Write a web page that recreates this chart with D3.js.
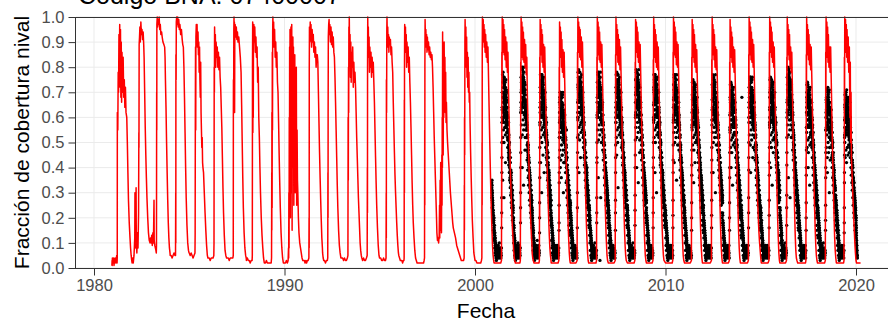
<!DOCTYPE html>
<html>
<head>
<meta charset="utf-8">
<script src="https://cdn.jsdelivr.net/npm/d3@7"></script>
<style>
  body { margin: 0; background: #fff; }
  svg { display: block; font-family: "Liberation Sans", Arial, sans-serif; }
</style>
</head>
<body>
<script>
// ---- DATA ---------------------------------------------------------------
// Modelled snow cover (red line): one string per year, "offset:value" pairs,
// offset = hundredths of the year, value = hundredths of the fraction.
const modelYears = [1980, 1981, 1982, 1983, 1984, 1985, 1986, 1987, 1988, 1989,
  1990, 1991, 1992, 1993, 1994, 1995, 1996, 1997, 1998, 1999,
  2000, 2001, 2002, 2003, 2004, 2005, 2006, 2007, 2008, 2009,
  2010, 2011, 2012, 2013, 2014, 2015, 2016, 2017, 2018, 2019, 2020];

const modelCurve = [
  "94:1 95:3 95.5:1 96.5:4 97.5:2 98.5:3",
  "0:2 3:4 5:1 8:3 11:4 14:2 17:3 19:5 21:2 22:4 22.5:62 25:55 27:78 29:70 31:93 33:80 35:97 37:72 39:95 41:68 43:90 45:66 47:86 50:70 53:84 56:68 59:75 62:64 65:72 68:62 72:60 75:50 78:38 81:27 85:18 89:12 92:8 95:5 98:3",
  "0:2 3:4 6:2 10:5 14:12 15:30 16:10 18:28 19:8 21:32 22:10 25:6 28:14 31:8 34:22 35.5:54 36:48 37:89 39:92 41:96 43:90 46:98 49:93 52:95 55:91 58:94 61:89 63:84 66:70 69:56 72:45 75:36 78:28 82:20 86:14 90:11 94:10 97:12",
  "0:10 3:13 6:9 9:14 12:10 15:27 16:11 19:9 22:8 25:7 27:6 28:9 29:70 29.5:55 30:97 32:100 34:96 36:99 39:97 42:100 45:95 48:97 51:93 55:94 58:92 62:90 67:89 71:88 73:84 75:75 78:64 81:50 84:38 87:27 90:18 93:12 96:8 99:6",
  "0:5 5:5 10:4 15:5 20:6 25:5 28:5 29:30 29.5:10 30:85 31:75 32:98 34:100 36:97 39:100 42:96 45:99 48:95 51:97 55:93 59:95 63:91 66:89 69:88 72:80 75:68 78:54 81:40 84:28 88:17 92:10 96:7 99:6",
  "0:6 5:5 10:6 15:5 20:4 25:5 30:6 31:14 31.5:40 32:62 33:88 34:55 35:92 37:97 39:90 41:97 43:88 46:94 48:85 50:90 52:78 54:88 56:75 58:68 60:82 62:62 64:55 66:48 68:52 70:42 72:40 75:38 79:30 83:22 87:15 91:9 95:5 98:4",
  "0:4 5:4 10:3 15:4 20:4 25:4 29:5 30:10 30.5:45 31:80 32:70 33:96 35:86 37:93 39:80 41:90 44:84 47:88 50:80 53:86 56:79 59:84 62:76 65:72 68:64 71:56 74:44 77:32 80:22 84:13 88:7 92:5 96:4 99:4",
  "0:4 5:4 10:3 15:4 20:4 25:4 29:4 31:5 31.5:58 32:75 33:62 34:95 35:100 36:80 37:98 38:62 39:90 41:97 44:92 47:96 50:91 53:94 56:90 60:92 64:88 68:84 72:78 75:65 78:50 81:36 84:24 88:14 92:8 96:5 99:4",
  "0:3 5:4 10:3 15:3 20:2 25:3 30:3 31:5 31.5:45 32:80 33:98 34:54 35:92 36:60 37:88 39:97 41:90 44:96 47:86 50:92 53:84 56:88 59:74 62:80 65:60 68:52 71:40 74:30 78:20 82:13 86:8 90:4 94:2 98:2",
  "0:2 5:3 10:2 15:2 20:2 25:2 30:2 32:4 33:38 33.5:15 34:62 35:24 36:86 37:55 38:94 39:100 41:92 43:98 45:88 48:95 51:84 54:90 57:80 60:86 63:74 66:70 69:58 72:45 75:34 78:24 82:14 86:8 90:4 94:2 98:2",
  "0:2 5:2 10:3 15:2 19:3 21:8 22:4 23:30 24:8 25:60 26:20 27:88 28:35 29:95 30:55 31:20 32:92 33:70 34:96 35:30 36:90 37:50 38:97 40:15 41:80 42:40 44:92 46:62 47:88 49:25 50:78 52:50 54:85 56:30 58:70 60:45 62:80 64:25 66:55 68:35 70:30 73:20 76:14 80:10 84:8 88:6 92:4 96:3",
  "0:3 4:3 8:2 12:3 16:2 20:3 24:3 28:4 29:20 29.5:8 30:78 31:96 33:90 35:98 37:92 39:97 42:88 45:95 48:90 51:93 54:86 57:90 60:84 63:88 66:80 69:85 72:85 75:82 78:70 81:58 84:46 87:36 90:27 93:19 96:12 99:8",
  "0:6 3:4 6:3 10:3 15:2 20:3 25:3 27:4 28:38 28.5:20 29:60 30:92 32:97 34:99 36:93 38:97 41:90 44:96 47:89 50:94 53:88 56:92 59:86 62:84 65:76 68:66 71:55 74:44 77:33 80:24 84:15 88:9 92:6 96:4 99:4",
  "0:4 5:4 10:3 15:4 20:3 25:3 30:4 33:5 34:60 35:35 36:80 37:62 38:96 39:88 40:100 42:84 44:93 46:76 48:90 50:74 52:86 55:80 58:88 61:72 64:82 67:74 70:78 73:72 76:62 79:52 82:44 85:36 88:28 91:22 94:16 97:10",
  "0:7 3:5 6:4 10:3 15:4 20:3 25:3 30:4 34:5 35:40 35.5:22 36:80 37:100 38:88 40:96 42:84 44:92 46:78 48:88 51:80 54:86 57:76 60:84 63:78 66:82 69:74 72:66 75:55 78:44 81:34 84:25 88:16 92:9 96:5 99:4",
  "0:4 5:4 10:3 15:3 20:4 25:3 30:3 33:4 34:30 34.5:12 35:75 36:62 37:94 38:100 40:90 42:96 44:88 46:93 48:86 50:92 53:89 56:91 59:85 62:88 65:82 68:78 71:66 74:56 77:46 80:37 83:30 86:24 89:18 92:13 95:9 98:6",
  "0:5 4:4 8:3 12:3 16:3 20:2 24:3 27:3 28:4 29:67 29.5:30 30:82 31:97 33:92 35:96 37:86 39:93 41:80 43:90 46:82 49:88 52:78 55:84 58:74 61:66 64:56 67:45 70:34 73:25 76:18 80:12 84:7 88:4 92:3 96:2",
  "0:2 5:2 10:2 15:2 20:2 25:2 30:2 33:3 35:4 36:55 36.5:25 37:80 38:99 40:90 42:95 44:88 46:93 48:86 50:92 53:87 56:90 59:85 62:88 65:84 68:86 71:83 74:85 77:80 80:72 83:62 86:52 89:44 92:36 95:28 98:20",
  "0:14 3:11 6:12 9:10 12:13 14:25 15:12 17:35 18:15 20:42 21:20 23:30 24:14 26:45 27:25 28:60 29:40 30:94 31:55 32:88 33:45 35:82 36:60 38:90 40:70 42:84 44:62 46:78 48:58 50:66 53:55 56:50 59:46 62:42 65:38 68:34 71:30 74:27 77:24 80:21 83:18 86:16 89:15 92:14 95:13 98:12",
  "0:11 4:9 8:8 12:7 16:6 20:5 24:4 28:3 32:3 36:3 40:3 43:4 44:33 44.5:15 45:60 46:45 47:90 48:99 50:88 52:96 54:80 56:92 58:76 60:86 62:72 64:84 66:70 68:78 70:66 72:70 74:58 77:46 80:36 83:27 86:19 90:12 94:6 98:4",
  "0:3 5:3 10:2 15:2 20:2 25:2 30:2 34:3 36:4 37:50 37.5:25 38:85 39:100 41:92 43:99 45:90 47:97 49:88 51:95 53:86 56:93 59:84 62:90 65:82 68:88 71:76 74:64 77:52 80:41 83:31 86:22 89:15 92:9 95:5 98:3",
  "0:2 5:2 10:2 15:2 20:2 25:2 30:2 35:2 39:3 40:48 40.5:20 41:86 42:72 43:100 45:92 47:99 49:86 51:97 53:85 55:95 58:83 61:92 64:80 67:90 70:78 73:86 76:70 79:60 82:50 85:41 88:33 91:26 94:20 97:15",
  "0:11 3:7 6:4 9:3 12:2 18:2 24:2 30:2 36:2 38:3 39:42 39.5:18 40:82 41:66 42:100 44:91 46:98 48:84 50:96 52:83 54:94 57:82 60:91 63:80 66:89 69:77 72:84 75:68 78:58 81:48 84:39 87:31 90:24 93:18 96:13 99:9",
  "0:6 3:4 6:3 10:2 18:2 24:2 30:2 36:2 38:3 39:40 39.5:20 40:84 41:70 42:99 44:90 46:97 48:85 50:95 52:82 54:93 57:80 60:89 63:78 66:88 69:76 72:64 75:53 78:43 81:34 84:26 87:19 90:13 93:8 96:5 99:3",
  "0:2 8:2 12:2 18:2 24:2 30:2 36:2 40:3 41:38 41.5:16 42:80 43:64 44:98 46:88 48:96 50:84 52:94 54:80 56:91 59:78 62:87 65:76 68:86 71:74 74:62 77:51 80:41 83:32 86:24 89:17 92:11 95:6 98:3",
  "0:2 5:2 10:2 15:2 20:2 25:2 30:2 36:3 37:45 37.5:22 38:86 39:70 40:100 42:90 44:98 46:86 48:96 50:84 52:95 55:83 58:92 61:80 64:90 67:78 70:66 73:55 76:44 79:34 82:25 85:17 88:11 91:6 94:3 97:2",
  "0:2 5:2 10:2 15:2 20:2 25:2 30:2 35:2 38:3 39:44 39.5:20 40:84 41:68 42:100 44:91 46:98 48:85 50:96 52:83 54:94 57:82 60:90 63:80 66:89 69:77 72:65 75:54 78:43 81:33 84:24 87:16 90:10 93:5 96:3",
  "0:2 5:2 10:2 15:2 20:2 25:2 30:2 36:3 37:46 37.5:24 38:85 39:70 40:100 42:89 44:97 46:85 48:95 50:82 52:93 55:81 58:91 61:79 64:88 67:76 70:64 73:53 76:42 79:32 82:23 85:15 88:9 91:5 94:3",
  "0:2 5:2 10:2 15:2 20:2 25:2 30:2 35:2 39:3 40:40 40.5:18 41:82 42:66 43:99 45:90 47:98 49:86 51:96 53:84 55:94 58:82 61:90 64:80 67:89 70:77 73:65 76:54 79:43 82:33 85:24 88:16 91:10 94:5 97:3",
  "0:2 5:2 10:2 15:2 20:2 25:2 30:2 34:3 35:42 35.5:20 36:83 37:68 38:100 40:90 42:97 44:84 46:95 48:82 50:93 53:80 56:90 59:79 62:88 65:76 68:64 71:53 74:42 77:32 80:23 83:15 86:9 89:5 92:3",
  "0:2 5:2 10:2 15:2 20:2 25:2 30:2 35:2 38:3 39:45 39.5:22 40:86 41:70 42:100 44:91 46:98 48:85 50:96 52:84 54:94 57:81 60:90 63:80 66:89 69:77 72:65 75:54 78:43 81:33 84:24 87:16 90:10 93:5 96:3",
  "0:2 5:2 10:2 15:2 20:2 25:2 30:2 36:3 37:44 37.5:20 38:84 39:68 40:99 42:89 44:97 46:84 48:95 50:82 52:93 55:80 58:89 61:78 64:87 67:75 70:63 73:52 76:41 79:31 82:22 85:14 88:8 91:4 94:2",
  "0:2 5:2 10:2 15:2 20:2 25:2 30:2 35:2 41:3 42:42 42.5:20 43:83 44:68 45:100 47:90 49:97 51:85 53:95 55:83 57:93 60:80 63:88 66:79 69:87 72:75 75:63 78:52 81:41 84:31 87:22 90:14 93:8 96:4 99:2",
  "0:2 5:2 10:2 15:2 20:2 25:2 30:2 35:3 36:40 36.5:18 37:82 38:66 39:99 41:90 43:96 45:84 47:94 49:82 51:92 54:80 57:88 60:78 63:87 66:75 69:63 72:52 75:41 78:31 81:22 84:14 87:8 90:4 93:2",
  "0:2 5:2 10:2 15:2 20:2 25:2 30:2 35:3 36:44 36.5:22 37:85 38:70 39:100 41:91 43:98 45:85 47:96 49:83 51:94 54:82 57:91 60:80 63:89 66:77 69:66 72:56 75:47 78:39 81:32 84:26 87:20 90:15 93:11 96:8 99:5",
  "0:4 3:2 8:2 14:2 20:2 26:2 32:2 38:2 43:3 44:46 44.5:24 45:86 46:72 47:100 49:92 51:98 53:86 55:96 57:84 59:94 62:82 65:90 68:80 71:88 74:74 77:61 80:49 83:38 86:28 89:19 92:12 95:6 98:3",
  "0:2 5:2 10:2 15:2 20:2 25:2 30:2 35:3 36:42 36.5:20 37:84 38:68 39:100 41:90 43:97 45:85 47:95 49:83 51:93 54:80 57:88 60:78 63:86 66:72 69:58 72:45 75:33 78:22 81:13 84:7 87:4 90:3 94:2 98:2",
  "0:2 5:2 10:2 15:2 20:2 25:2 30:2 35:2 37:3 38:44 38.5:22 39:85 40:70 41:100 43:90 45:97 47:85 49:95 51:83 53:93 56:81 59:89 62:79 65:88 68:76 71:64 74:53 77:42 80:32 83:23 86:15 89:9 92:5 95:3 98:2",
  "0:2 5:2 10:2 15:2 20:2 25:2 30:2 35:2 39:3 40:44 40.5:20 41:86 42:70 43:100 45:90 47:98 49:84 51:96 53:82 55:93 58:80 61:88 64:78 67:88 70:75 73:62 76:50 79:39 82:29 85:20 88:12 91:7 94:4 97:2",
  "0:2 5:2 10:2 15:2 20:2 25:2 30:2 35:2 37:3 38:40 38.5:18 39:84 40:66 41:100 43:92 45:99 47:86 49:97 51:84 53:95 56:82 59:92 62:78 65:88 68:60 70:82 72:50 74:70 76:44 79:38 82:32 85:26 88:20 91:15 94:10 97:6 99:4",
  "0:3 3:2 10:2 18:2 24:2"
];

// Observed snow cover (black points): one string per year, segments
// "start:v v v ..." with one value per hundredth of a year from start.
const snowYears = [2000, 2001, 2002, 2003, 2004, 2005, 2006, 2007, 2008, 2009,
  2010, 2011, 2012, 2013, 2014, 2015, 2016, 2017, 2018, 2019, 2020];

const snowObs = [
  "88:34 30 31 27 28 24 25 22 20 21 18 17",
  "0:16 15 13 14 11 12 10 09 10 08 07 09 06 08 07 05 06 08;18:06 04 07 05 09 06 04 08 05 07 10 06 05 04 08 06 05 07 04 06 05 08;40:16 38 58;43:64 70 58 74 68 62 72 76 66 70 60 73 68 64 71 67 56 72 65 62 69 63 59 66 61 57;69:62 54 58 51 55 48 52 46 49 43 47 41 44 38 42 36 39 34 37 32 35 30 33 28 31 26 29 25 27 23 24;45:35;52:28;60:42",
  "0:20 18 17 15 16 13 12 10 11 08 09 07 08 06 07 05 06 05;18:07 04 06 09 05 08 04 06 10 05 07 04 08 06 05 09 04 07 06 05 08;39:18 40 62;42:70 64 74 68 79 72 66 75 70 80 73 67 71 76 64 72 69 74 62 70 66 71 60 67 63 61;68:62 58 55 60 52 56 49 53 47 50 44 48 42 45 39 43 37 40 35 38 32 36 30 33 28 31 27 29 25 27 24 22;48:40;55:33;62:47",
  "0:20 21 17 18 15 16 13 14 11 12 09 10 08 09 07 06 08 05;18:06 08 05 07 04 09 06 05 07 11 04 06 08 05 07 04 06 09 05 07 06;39:14 36 57;42:62 70 66 73 60 71 75 68 64 72 77 69 65 71 63 74 68 61 70 66 59 67 63 58 65 60;68:64 58 55 60 51 55 48 52 46 43 49 41 44 38 42 36 39 33 37 31 34 29 32 27 30 25 28 24 26 22 23 21;44:42;50:30;57:45;63:38",
  "0:20 18 19 16 17 14 15 12 13 10 11 09 08 09 07 06 07 05;18:06 04 07 05 08 06 04 09 05 07 05 08 06 04 07 05 09 06 04 07 05 06 08;41:15 34 52;44:62 68 59 65 70 64 57 67 63 69 60 66 54 64 68 61 58 65 56 62 59 52 60 55 57 51;73:56 52 55 48 51 45 49 43 46 40 44 38 41 36 39 34 37 32 35 30 33 28 31 26 29 25 27;48:40;53:36;58:45;64:30;70:42;80:55",
  "0:24 25 21 22 19 20 16 17 14 15 12 13 10 11 09 08 07 08;18:06 05 07 04 08 06 05 09 04 07 06 05 08 04 06 07 05 06 04;37:16 40 60;40:66 72 60 76 70 64 74 78 68 72 62 75 70 66 73 69 58 74 67 64 71 65 61 68 63 59;66:66 60 56 62 53 57 50 54 48 45 51 43 46 40 44 38 41 35 39 33 36 31 34 29 32 27 30 26 28 24 25 23 24 21;46:38;54:44;88:40",
  "0:22 20 21 18 19 16 15 13 14 11 12 10 09 08 09 07 06 07;18:05 07 04 06 09 05 08 06 04 07 05 10 06 04 08 05 07 06 04 05 07;39:18 42 61;42:68 62 72 66 77 70 64 73 68 78 71 65 69 74 62 70 67 72 60 68 64 69 58 65 61 59;68:65 57 61 54 58 51 55 49 52 46 50 44 47 41 45 39 42 37 40 35 38 33 36 31 34 29 32 28 30 26 27 25;56:03;47:36;60:28",
  "0:24 22 23 20 21 18 17 15 16 13 14 12 10 11 09 08 07 08;18:06 04 07 05 08 06 05 09 04 07 05 06 08 04 06 05 07 04 06;37:15 38 58;40:62 70 66 73 60 71 75 68 64 72 77 69 65 71 63 74 68 61 70 66 59 67 63 58 65 60;66:63 58 55 60 52 56 49 53 47 50 44 48 42 45 39 43 37 40 35 38 32 36 30 33 28 31 27 29 25 27 24 25 22 23;44:45;51:32",
  "0:22 20 21 18 19 16 15 13 14 11 12 10 09 08 09 07 06 07;18:05 07 04 06 09 05 08 06 04 07 05 10 06 04 08 05 07 06 04 05 07 06;40:17 40 60;43:69 75 66 72 78 71 64 74 70 76 67 73 61 71 75 68 65 72 63 69 66 59 67 62 64 58;69:65 57 61 54 58 51 55 49 52 46 50 44 47 41 45 39 42 37 40 35 38 33 36 31 34 29 32 28 30 26 27;49:40;57:34;64:46",
  "0:22 20 21 18 19 16 17 14 15 12 13 10 11 09 08 07 08 06;18:07 05 04 08 06 05 09 04 07 06 05 08 04 06 07 05 06;35:16 40 59;38:65 71 59 75 69 63 73 77 67 71 61 74 69 65 72 68 57 73 66 63 70 64 60 67 62 58;64:66 60 56 62 53 57 50 54 48 45 51 43 46 40 44 38 41 35 39 33 36 31 34 29 32 27 30 26 28 24 25 22 24 21 22 20;45:38;53:30",
  "0:20 18 19 16 17 14 15 12 13 10 11 09 08 09 07 06 07 05;18:06 04 07 05 08 06 04 09 05 07 05 08 06 04 07 05 09 06 04 07 05;39:16 38 58;42:67 61 71 65 76 69 63 72 67 77 70 64 68 73 61 69 66 71 59 67 63 68 57 64 60 58;68:62 58 55 60 52 56 49 53 47 50 44 48 42 45 39 43 37 40 35 38 32 36 30 33 28 31 27 29 25 27 24 22;46:42;58:35",
  "0:22 23 19 20 17 18 15 16 13 14 11 12 10 09 08 09 07 06;18:07 05 04 08 06 05 09 04 07 06 05 08 04 06 07 05 06 04 05;37:15 37 56;40:59 67 63 70 57 68 72 65 61 69 74 66 62 68 60 71 65 58 67 63 56 64 60 55 62 57;66:62 55 59 52 56 49 53 47 50 44 48 42 45 39 43 37 40 35 38 33 36 31 34 29 32 27 30 26 28 24 25 23 24 21;48:34;55:42",
  "0:20 18 19 16 17 14 15 12 13 10 11 09 08 09 07 06 07 05;18:06 04 07 05 08 06 04 09 05 07 05 08 06 04 07 05 09 06 04 07 05 06 04 08;42:16 38 57;45:67 73 64 70 75 69 62 72 68 74 65 71 59 69 73 66 63 70 61 67 64 57 65 60 62 56;71:62 56 59 52 56 49 53 46 50 44 47 41 45 39 42 37 40 35 38 33 36 31 34 29 32 28 30 26 27;50:38;62:30",
  "0:18 19 16 17 14 15 12 13 10 11 09 08 09 07 06 07 05 06;18:04 07 05 08 06 04 09 05 07 05 08 06 04 07 05 09 06 04;36:15 36 55;39:61 67 55 71 65 59 69 73 63 67 57 70 65 61 68 64 53 69 62 59 66 60 56 63 58 54;65:62 57 53 59 50 54 47 51 45 42 48 40 43 37 41 35 38 32 36 30 33 28 31 26 29 24 27 23 25 21 22 20 21 19 20;44:40;52:33",
  "0:20 68;2:17 18 15 16 13 14 11 12 10 09 08 09 07 06 07 05;18:06 04 07 05 08 06 04 09 05 07 05 08 06 04 07 05 09 06;36:16 39 58;39:66 60 70 64 75 68 62 71 66 76 69 63 67 72 60 68 65 70 58 66 62 67 56 63 59 57;65:62 58 55 60 52 56 49 53 47 50 44 48 42 45 39 43 37 40 35 38 32 36 30 33 28 31 27 29 25 27 24 22 23 21 22;47:38;58:44",
  "0:20 18 19 16 17 14 15 12 13 10 11 09 08 09 07 06 07 05;18:06 04 07 05 08 06 04 09 05 07 05 08 06 04 07 05 09 06 04 07 05 06 04 08 05 07;44:16 37 57;47:60 68 64 71 58 69 73 66 62 70 75 67 63 69 61 72 66 59 68 64 57 65 61 56 63 58;73:61 55 58 51 55 48 52 45 49 43 46 40 44 38 41 36 39 34 37 32 35 30 33 28 31 27 28;52:40;60:33;66:46",
  "0:22 20 21 18 19 16 17 14 15 12 13 10 11 09 08 07 08 06;18:05 07 04 06 09 05 08 06 04 07 05 10 06 04 08 05 07 06;36:17 41 60;39:67 73 61 77 71 65 75 79 69 73 63 76 71 67 74 70 59 75 68 65 72 66 62 69 64 60;65:66 60 56 62 53 57 50 54 48 45 51 43 46 40 44 38 41 35 39 33 36 31 34 29 32 27 30 26 28 24 25 23 24 21 22;45:36;54:28",
  "0:20 18 19 16 17 14 15 12 13 10 11 09 08 09 07 06 07 05;18:06 04 07 05 08 06 04 09 05 07 05 08 06 04 07 05 09 06 04 07;38:15 37 56;41:64 70 61 67 73 66 59 69 65 71 62 68 56 66 70 63 60 67 58 64 61 54 62 57 59 53;67:61 55 59 52 56 49 53 47 50 44 48 42 45 39 43 37 40 35 38 33 36 31 34 29 32 27 30 26 28 24 25 23 24;49:40;57:33",
  "0:22 20 21 18 19 16 17 14 15 12 13 10 11 09 08 07 08 06;18:05 07 04 06 09 05 08 06 04 07 05 10 06 04 08 05 07 06 04 05 07 06;40:15 36 55;43:62 56 66 60 71 64 58 67 62 72 65 59 63 68 56 64 61 66 54 62 58 63 52 59 55 53;69:58 54 51 56 48 52 45 49 43 46 40 44 38 41 35 39 33 36 31 34 28 32 26 29 24 27 23 25 21 23 20;50:38;60:30",
  "0:18 16 17 14 15 12 13 10 11 09 08 09 07 06 07 05 06 04;18:06 04 07 05 08 06 04 09 05 07 05 08 06 04 07 05 09 06 04 07;38:14 34 53;41:56 64 60 67 54 65 69 62 58 66 71 63 59 65 57 68 62 55 64 60 53 61 57 52 59 54;67:60 56 53 58 50 54 47 51 45 48 42 46 40 43 37 41 35 38 33 36 30 34 28 31 26 29 24 27 22 25 21 23 20",
  "0:18 15 13 10 08 06 05 04"
];

// further daily observations falling between the ones above (same format)
const snowObsExtra = [
  "88.5:32 33 29 26 27 23 22 23 19 18 19 16",
  "0.5:15 14 12 13 10 11 08 09 07 08 06 07 05 06 04 07 05;40.5:28 50 63 70 64 68 59 72 66 75 63 69 67 61 73 65 70 58 68 64 71 62 66 60 68 56 64 59 61 58 61 54 57 51 55 48 52 45 49 43 47 40 44 38 42 36 39 34 37 32 35 30 33 28 31 26 29 25 27 23",
  "0.5:22 19 20 16 17 14 13 11 12 09 10 08 07 08 06 05 07;39.5:30 52 66 63 71 76 68 73 79 65 74 70 77 67 72 75 64 73 78 69 66 74 62 71 67 63 69 65 60 64 59 61 55 58 52 55 49 52 46 49 44 47 41 44 39 42 37 39 35 37 33 35 31 33 29 31 28 29 26 27 24",
  "0.5:23 19 20 16 17 14 15 12 10 11 09 08 07 06 08 05 06;39.5:26 48 64 72 66 70 61 74 68 77 65 71 69 63 75 67 72 60 70 66 73 64 68 62 70 58 66 61 63 60 63 56 59 53 57 50 54 47 51 45 49 42 46 40 44 38 41 36 39 34 37 32 35 30 33 28 31 27 29 25 27",
  "0.5:22 20 17 18 15 16 13 14 11 12 09 10 07 08 06 07 05;41.5:25 44 58 54 62 67 59 64 70 56 65 61 68 58 63 66 55 64 69 60 57 65 53 62 58 54 60 56 51 58 53 55 49 52 46 49 43 46 40 43 38 41 35 38 33 36 31 33 29 31 27 29 25 27 23 25 22 23 20",
  "0.5:23 26 20 21 18 19 15 16 13 14 11 12 09 10 08 07 06;37.5:30 52 66 73 67 71 62 75 69 78 66 72 70 64 76 68 73 61 71 67 74 65 69 63 71 59 67 62 64 60 63 56 59 53 57 50 54 47 51 45 49 42 46 40 44 38 41 36 39 34 37 32 35 30 33 28 31 27 29 25 27 24 25",
  "0.5:21 23 19 20 17 16 14 15 12 13 11 10 09 08 06 07 05;39.5:28 50 66 61 69 74 66 71 77 63 72 68 75 65 70 73 62 71 76 67 64 72 60 69 65 61 67 63 58 64 59 61 55 58 52 55 49 52 46 49 44 47 41 44 39 42 37 39 35 37 33 35 31 33 29 31 28 29 26 27 24",
  "0.5:23 21 22 19 20 17 16 14 15 12 13 11 09 10 08 07 06;37.5:27 49 64 72 66 70 61 74 68 77 65 71 69 63 75 67 72 60 70 66 73 64 68 62 70 58 66 61 63 60 63 56 59 53 57 50 54 47 51 45 49 42 46 40 44 38 41 36 39 34 37 32 35 30 33 28 31 27 29 25 27 24 25",
  "0.5:21 23 19 20 17 16 14 15 12 13 11 10 09 08 07 06 05;40.5:29 51 66 62 70 75 67 72 78 64 73 69 76 66 71 74 63 72 77 68 65 73 61 70 66 62 68 64 59 64 59 61 55 58 52 55 49 52 46 49 44 47 41 44 39 42 37 39 35 37 33 35 31 33 29 31 28 29 26 27",
  "0.5:21 19 20 17 18 15 16 13 14 11 12 09 10 08 07 06 05;35.5:28 50 65 72 66 70 61 74 68 77 65 71 69 63 75 67 72 60 70 66 73 64 68 62 70 58 66 61 63 60 63 56 59 53 57 50 54 47 51 45 49 42 46 40 44 38 41 36 39 34 37 32 35 30 33 28 31 27 29 25 27 24 25 23 22",
  "0.5:23 19 21 17 18 15 16 13 14 11 12 10 08 09 07 06 05;39.5:27 49 64 60 68 73 65 70 76 62 71 67 74 64 69 72 61 70 75 66 63 71 59 68 64 60 66 62 57 64 59 61 55 58 52 55 49 52 46 49 44 47 41 44 39 42 37 39 35 37 33 35 31 33 29 31 28 29 26 27 24",
  "0.5:21 22 18 19 16 17 14 15 12 13 10 11 09 08 07 08 06;37.5:26 47 62 69 63 67 58 71 65 74 62 68 66 60 72 64 69 57 67 63 70 61 65 59 67 55 63 58 60 60 63 56 59 53 57 50 54 47 51 45 49 42 46 40 44 38 41 36 39 34 37 32 35 30 33 28 31 27 29 25 27 24 25",
  "0.5:19 21 17 18 15 16 13 14 11 12 10 08 09 07 08 06 05;42.5:27 48 63 59 67 72 64 69 75 61 70 66 73 63 68 71 60 69 74 65 62 70 58 67 63 59 65 61 56 64 59 61 55 58 52 55 49 52 46 49 44 47 41 44 39 42 37 39 35 37 33 35 31 33 29 31 28 29",
  "0.5:21 17 18 15 16 13 14 11 12 10 09 10 08 07 06 05 07;36.5:26 46 61 68 62 66 57 70 64 73 61 67 65 59 71 63 68 56 66 62 69 60 64 58 66 54 62 57 59 60 63 56 59 53 57 50 54 47 51 45 49 42 46 40 44 38 41 36 39 34 37 32 35 30 33 28 31 27 29 25 27 24 25 23",
  "0.5:21 19 16 17 14 15 12 13 11 10 09 08 07 08 06 05 06;36.5:28 50 64 60 68 73 65 70 76 62 71 67 74 64 69 72 61 70 75 66 63 71 59 68 64 60 66 62 57 64 59 61 55 58 52 55 49 52 46 49 44 47 41 44 39 42 37 39 35 37 33 35 31 33 29 31 28 29 26 27 24 25 23 24",
  "0.5:24 21 22 18 19 15 16 13 14 12 11 10 08 09 07 06 05;44.5:27 48 63 70 64 68 59 72 66 75 63 69 67 61 73 65 70 58 68 64 71 62 66 60 68 56 64 59 61 60 63 56 59 53 57 50 54 47 51 45 49 42 46 40 44 38 41 36 39 34 37 32 35 30 33 28",
  "0.5:24 21 23 19 20 17 18 15 16 13 14 11 10 09 08 07 06;36.5:29 52 66 63 71 76 68 73 79 65 74 70 77 67 72 75 64 73 78 69 66 74 62 71 67 63 69 65 60 64 59 61 55 58 52 55 49 52 46 49 44 47 41 44 39 42 37 39 35 37 33 35 31 33 29 31 28 29 26 27 24 25 23 24",
  "0.5:19 21 17 18 15 16 13 14 11 12 10 09 08 07 08 06 05;38.5:26 47 62 68 62 66 57 70 64 73 61 67 65 59 71 63 68 56 66 62 69 60 64 58 66 54 62 57 59 60 63 56 59 53 57 50 54 47 51 45 49 42 46 40 44 38 41 36 39 34 37 32 35 30 33 28 31 27 29 25 27 24",
  "0.5:23 21 22 19 20 17 18 15 16 13 14 11 12 10 09 08 07;40.5:25 46 60 55 63 68 60 65 71 57 66 62 69 59 64 67 56 65 70 61 58 66 54 63 59 55 61 57 52 60 55 57 51 54 48 51 45 48 42 45 40 43 37 40 35 38 33 35 31 33 29 31 27 29 25 27 24 25 22 23",
  "0.5:20 21 18 19 16 17 14 15 12 13 11 10 09 08 07 06 05;38.5:24 45 59 65 59 63 54 67 61 70 58 64 62 56 68 60 65 53 63 59 66 57 61 55 63 51 59 54 56 57 60 53 56 50 54 47 51 44 48 42 46 39 43 37 41 35 38 33 36 31 34 29 32 27 30 25 28 24 26 22 24 21",
  "0.5:19 17 14 11 09 07 05"
];

// scattered observations (cloud-affected days) around the main band
const snowObsScatter = [
  "88.25:28 35 24 30 22 26 19 21 15 18 14",
  "0.25:20 11 17 08 14 06 12 09 05 10 04 08 03 07 05 06 04;40.25:22 44 60 58 77 52 70 78 63 55 74 68 50 76 61 72 56 66 74 53 69 62 75 57 64 71 54 67 60 70 52 64 48 60 55 44 58 41 53 47 38 50 35 46 42 32 44 29 39 36 26 38 24 33 30 21 31 19 27 25",
  "0.25:24 13 20 10 16 07 13 10 05 11 04 09 03 08 05 06 04;39.25:24 46 62 76 57 70 80 62 74 53 79 66 72 59 78 64 55 75 68 61 80 57 71 65 52 73 60 67 63 55 66 47 61 52 43 57 49 39 53 45 36 49 33 44 40 30 42 27 38 34 25 35 22 31 28 20 29 18 26 23 16",
  "0.25:22 12 18 09 15 07 12 09 05 10 04 08 03 07 05 06 04;39.25:20 42 58 58 77 52 70 77 63 55 74 68 50 76 61 72 56 66 75 53 69 62 76 57 64 71 54 67 60 70 52 64 48 60 55 44 58 41 53 47 38 50 35 46 42 32 44 29 39 36 26 38 24 33 30 21 31 19 27 25 17",
  "0.25:20 11 17 08 14 06 12 09 05 10 04 08 03 07 05 06 04;41.25:18 38 52 66 47 60 70 52 64 43 69 56 62 49 68 54 45 65 58 51 70 47 61 55 42 63 50 57 53 50 61 42 56 47 38 52 44 34 48 40 31 44 28 39 35 25 37 22 33 29 20 30 17 26 23 15 24 13 21 18",
  "0.25:26 14 22 10 18 08 15 12 06 11 05 09 04 08 03 07 05;37.25:24 46 62 59 78 53 71 79 64 56 75 69 51 78 62 73 57 67 76 54 70 63 77 58 65 72 55 68 61 70 52 64 48 60 55 44 58 41 53 47 38 50 35 46 42 32 44 29 39 36 26 38 24 33 30 21 31 19 27 25 17 24 16 21",
  "0.25:24 13 20 10 16 07 13 10 05 11 04 09 03 08 05 06 04;39.25:22 44 60 74 55 68 78 60 72 51 77 64 70 57 76 62 53 73 66 59 78 55 69 63 50 71 58 65 61 55 66 47 61 52 43 57 49 39 53 45 36 49 33 44 40 30 42 27 38 34 25 35 22 31 28 20 29 18 26 23 16",
  "0.25:25 13 21 10 17 08 14 11 06 11 05 09 04 08 03 07 05;37.25:22 44 60 58 77 52 70 78 63 55 74 68 50 77 61 72 56 66 75 53 69 62 76 57 64 71 54 67 60 70 52 64 48 60 55 44 58 41 53 47 38 50 35 46 42 32 44 29 39 36 26 38 24 33 30 21 31 19 27 25 17 24 16 21",
  "0.25:24 13 20 10 16 07 13 10 05 11 04 09 03 08 05 06 04;40.25:23 45 61 75 56 69 79 61 73 52 78 65 71 58 77 63 54 74 67 60 79 56 70 64 51 72 59 66 62 55 66 47 61 52 43 57 49 39 53 45 36 49 33 44 40 30 42 27 38 34 25 35 22 31 28 20 29 18 26 23",
  "0.25:24 13 20 10 16 07 13 10 05 11 04 09 03 08 05 06 04;35.25:22 44 60 58 77 52 70 77 63 55 74 68 50 76 61 72 56 66 75 53 69 62 76 57 64 71 54 67 60 70 52 64 48 60 55 44 58 41 53 47 38 50 35 46 42 32 44 29 39 36 26 38 24 33 30 21 31 19 27 25 17 24 16 21 18",
  "0.25:22 12 18 09 15 07 12 09 05 10 04 08 03 07 05 06 04;39.25:21 43 59 73 54 67 77 59 71 50 76 63 69 56 75 61 52 72 65 58 77 54 68 62 49 70 57 64 60 55 66 47 61 52 43 57 49 39 53 45 36 49 33 44 40 30 42 27 38 34 25 35 22 31 28 20 29 18 26 23 16",
  "0.25:24 13 20 10 16 07 13 10 05 11 04 09 03 08 05 06 04;37.25:20 41 57 55 74 49 67 75 60 52 71 65 47 73 58 69 53 63 72 50 66 59 73 54 61 68 51 64 57 68 50 62 46 58 53 42 56 39 51 45 36 48 33 44 40 30 42 27 37 34 24 36 22 31 28 19 29 17 25 23 15 22 14 19",
  "0.25:22 12 18 09 15 07 12 09 05 10 04 08 03 07 05 06 04;42.25:21 43 59 73 54 67 77 59 71 50 76 63 69 56 75 61 52 72 65 58 77 54 68 62 49 70 57 64 60 55 66 47 61 52 43 57 49 39 53 45 36 49 33 44 40 30 42 27 38 34 25 35 22 31 28 20 29 18 26",
  "0.25:22 12 18 09 15 07 12 09 05 10 04 08 03 07 05 06 04;36.25:20 40 56 54 73 48 66 74 59 51 70 64 46 72 57 68 52 62 71 49 65 58 72 53 60 67 50 63 56 66 48 60 44 56 51 40 54 37 49 43 34 46 31 42 38 28 40 25 35 32 22 34 20 29 26 17 27 15 23 21 13 20 12 17 14",
  "0.25:22 12 18 09 15 07 12 09 05 10 04 08 03 07 05 06 04;36.25:22 44 60 72 53 66 76 58 70 49 75 62 68 55 74 60 51 71 64 57 76 53 67 61 48 69 56 63 59 55 66 47 61 52 43 57 49 39 53 45 36 49 33 44 40 30 42 27 38 34 25 35 22 31 28 20 29 18 26 23 16 22 15 20 17",
  "0.25:22 12 18 09 15 07 12 09 05 10 04 08 03 07 05 06 04;44.25:21 42 58 56 75 50 68 76 61 53 72 66 48 74 59 70 54 64 73 51 67 60 74 55 62 69 52 65 58 70 52 64 48 60 55 44 58 41 53 47 38 50 35 46 42 32 44 29 39 36 26 38 24 33 30 21 31",
  "0.25:24 13 20 10 16 07 13 10 05 11 04 09 03 08 05 06 04;36.25:24 46 62 76 57 70 80 62 74 53 79 66 72 59 78 64 55 75 68 61 80 57 71 65 52 73 60 67 63 55 66 47 61 52 43 57 49 39 53 45 36 49 33 44 40 30 42 27 38 34 25 35 22 31 28 20 29 18 26 23 16 22 15 20 17",
  "0.25:22 12 18 09 15 07 12 09 05 10 04 08 03 07 05 06 04;38.25:20 40 56 54 73 48 66 74 59 51 70 64 46 72 57 68 52 62 71 49 65 58 72 53 60 67 50 63 56 66 48 60 44 56 51 40 54 37 49 43 34 46 31 42 38 28 40 25 35 32 22 34 20 29 26 17 27 15 23 21 13 20 12",
  "0.25:24 13 20 10 16 07 13 10 05 11 04 09 03 08 05 06 04;40.25:19 40 55 67 48 61 71 53 65 44 70 57 63 50 69 55 46 66 59 52 71 48 62 56 43 64 51 58 54 52 63 44 58 49 40 54 46 36 50 42 33 46 30 41 37 27 39 24 35 31 22 32 19 28 25 17 26 15 23 20",
  "0.25:22 12 18 09 15 07 12 09 05 10 04 08 03 07 05 06 04;38.25:18 38 52 50 69 44 62 70 55 47 66 60 42 68 53 64 48 58 67 45 61 54 68 49 56 63 46 59 52 66 48 60 44 56 51 40 54 37 49 43 34 46 31 42 38 28 40 25 35 32 22 34 20 29 26 17 27 15 23 21 13 20 12",
  "0.25:20 12 16 09 07 05 04"
];

// Axis ticks and labels
const xTickValues = [1980, 1990, 2000, 2010, 2020];
const yTickValues = [0, 0.1, 0.2, 0.3, 0.4, 0.5, 0.6, 0.7, 0.8, 0.9, 1.0];
const titleText = "Código BNA: 07400007";
const xLabel = "Fecha";
const yLabel = "Fracción de cobertura nival";

// ---- PARSE --------------------------------------------------------------
const redData = [];
modelYears.forEach((yr, k) => {
  modelCurve[k].trim().split(/\s+/).forEach(p => {
    const [o, v] = p.split(":").map(Number);
    redData.push({ t: yr + o / 100, v: v / 100 });
  });
});

const blackData = [];
function addObs(years, strings) {
  years.forEach((yr, k) => {
    strings[k].split(";").forEach(seg => {
      const [start, vals] = seg.split(":");
      vals.trim().split(/\s+/).forEach((v, j) => {
        blackData.push({ t: yr + (+start + j) / 100, v: +v / 100 });
      });
    });
  });
}
addObs(snowYears, snowObs);
addObs(snowYears, snowObsExtra);
addObs(snowYears, snowObsScatter);

// ---- LAYOUT -------------------------------------------------------------
const W = 888, H = 322;
const panel = { left: 76, right: 888, top: 17, bottom: 268 };

const svg = d3.select("body").append("svg")
  .attr("width", W)
  .attr("height", H);

svg.append("rect").attr("width", W).attr("height", H).attr("fill", "#fff");

const x = d3.scaleLinear().domain([1980, 2020]).range([94, 856]);
const y = d3.scaleLinear().domain([0, 1]).range([panel.bottom, panel.top]);

// gridlines
svg.append("g").selectAll("line")
  .data(yTickValues)
  .join("line")
  .attr("x1", panel.left).attr("x2", panel.right)
  .attr("y1", d => y(d)).attr("y2", d => y(d))
  .attr("stroke", "#ebebeb").attr("stroke-width", 1);

svg.append("g").selectAll("line")
  .data(xTickValues)
  .join("line")
  .attr("x1", d => x(d)).attr("x2", d => x(d))
  .attr("y1", panel.top).attr("y2", panel.bottom)
  .attr("stroke", "#ebebeb").attr("stroke-width", 1);

// black observations (under the red line)
svg.append("g").selectAll("circle")
  .data(blackData)
  .join("circle")
  .attr("cx", d => x(d.t))
  .attr("cy", d => y(d.v))
  .attr("r", 1.65)
  .attr("fill", "#000");

// red modelled curve
const line = d3.line().x(d => x(d.t)).y(d => y(d.v));
svg.append("path")
  .datum(redData)
  .attr("d", line)
  .attr("fill", "none")
  .attr("stroke", "#ff0000")
  .attr("stroke-width", 1.5)
  .attr("stroke-linejoin", "round");

// panel border lines (left, bottom, top)
const border = svg.append("g").attr("stroke", "#333").attr("stroke-width", 1);
border.append("line").attr("x1", panel.left).attr("x2", panel.right).attr("y1", panel.top + 0.5).attr("y2", panel.top + 0.5);
border.append("line").attr("x1", panel.left).attr("x2", panel.right).attr("y1", panel.bottom + 0.5).attr("y2", panel.bottom + 0.5);
border.append("line").attr("x1", panel.left - 0.5).attr("x2", panel.left - 0.5).attr("y1", panel.top).attr("y2", panel.bottom + 1);

// axes
const yAxis = svg.append("g")
  .attr("transform", `translate(${panel.left - 0.5},0)`)
  .call(d3.axisLeft(y).tickValues(yTickValues).tickFormat(d3.format(".1f")).tickSize(7).tickPadding(4));
const xAxis = svg.append("g")
  .attr("transform", `translate(0,${panel.bottom + 0.5})`)
  .call(d3.axisBottom(x).tickValues(xTickValues).tickFormat(d3.format("d")).tickSize(7).tickPadding(4));

[yAxis, xAxis].forEach(g => {
  g.select(".domain").remove();
  g.selectAll(".tick line").attr("stroke", "#333");
  g.selectAll(".tick text")
    .attr("fill", "#4d4d4d")
    .style("font-size", "16.5px")
    .style("font-family", "'Liberation Sans', Arial, sans-serif");
});

// axis titles
svg.append("text")
  .attr("x", 486).attr("y", 318)
  .attr("text-anchor", "middle")
  .style("font-size", "21px")
  .attr("fill", "#000")
  .text(xLabel);

svg.append("text")
  .attr("transform", "translate(28.5,142.5) rotate(-90)")
  .attr("text-anchor", "middle")
  .style("font-size", "21px")
  .attr("fill", "#000")
  .text(yLabel);

// title (cropped at the top edge in the reference)
svg.append("text")
  .attr("x", 78).attr("y", 4)
  .style("font-size", "25px")
  .attr("fill", "#000")
  .text(titleText);
</script>
</body>
</html>
